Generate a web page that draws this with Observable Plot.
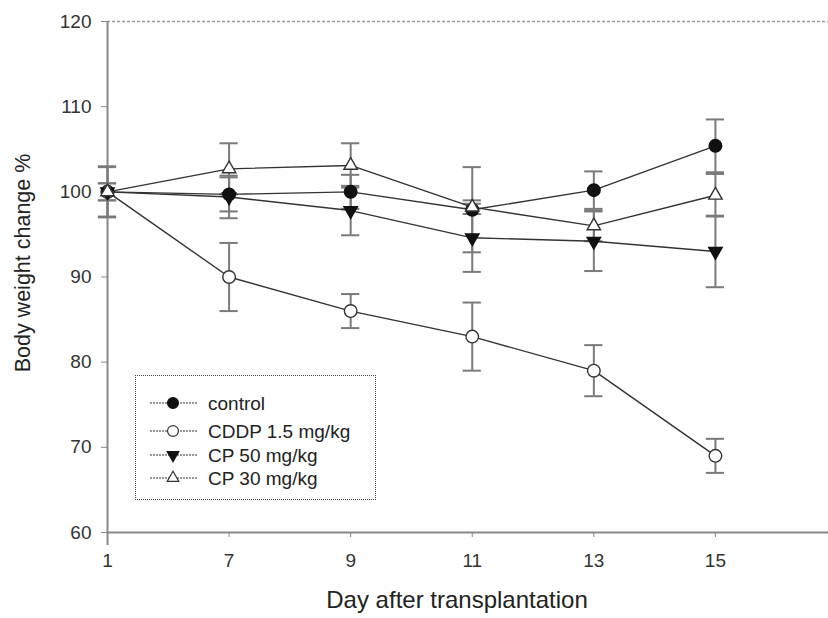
<!DOCTYPE html>
<html>
<head>
<meta charset="utf-8">
<script src="https://cdn.jsdelivr.net/npm/d3@7"></script>
<script src="https://cdn.jsdelivr.net/npm/@observablehq/plot@0.6"></script>
<style>
  html, body { margin: 0; padding: 0; background: #fff; }
  body { width: 828px; height: 618px; position: relative; overflow: hidden; font-family: "Liberation Sans", Arial, sans-serif; }
  #chart { position: absolute; left: 0; top: 0; }
  #legend { position: absolute; left: 135px; top: 375px; width: 241px; height: 125px; border: 1.5px dotted #444; box-sizing: border-box; }
  #legend svg { position: absolute; left: 0; top: 0; }
</style>
</head>
<body>
<div id="chart"></div>
<div id="legend"></div>
<script>
// ---- data ----
const days = ["1", "7", "9", "11", "13", "15"];
const seriesNames = ["control", "CDDP 1.5 mg/kg", "CP 50 mg/kg", "CP 30 mg/kg"];
const controlVals = [100, 99.7, 100.0, 97.9, 100.2, 105.4];
const controlErr  = [1.0, 2.0, 2.0, 5.0, 2.2, 3.1];
const cddpVals    = [100, 90.0, 86.0, 83.0, 79.0, 69.0];
const cddpErr     = [1.0, 4.0, 2.0, 4.0, 3.0, 2.0];
const cp50Vals    = [100, 99.4, 97.8, 94.6, 94.2, 93.0];
const cp50Err     = [3.0, 2.5, 2.9, 4.0, 3.5, 4.2];
const cp30Vals    = [100, 102.7, 103.1, 98.2, 96.0, 99.6];
const cp30Err     = [2.9, 3.0, 2.6, 0.8, 1.8, 2.5];
const yTicks = [60, 70, 80, 90, 100, 110, 120];

const valueLists = [controlVals, cddpVals, cp50Vals, cp30Vals];
const errLists = [controlErr, cddpErr, cp50Err, cp30Err];

const rows = [];
seriesNames.forEach((s, k) => {
  days.forEach((d, i) => rows.push({series: s, i, day: d, value: valueLists[k][i], err: errLists[k][i]}));
});

// downward triangle symbol
const triangleDown = {
  draw(context, size) {
    const y = -Math.sqrt(size / (Math.sqrt(3) * 3));
    context.moveTo(0, -y * 2);
    context.lineTo(-Math.sqrt(3) * y, y);
    context.lineTo(Math.sqrt(3) * y, y);
    context.closePath();
  }
};

const styles = {
  "control":        {symbol: "circle",   fill: "#111", stroke: "#111", r: 6.3},
  "CDDP 1.5 mg/kg": {symbol: "circle",   fill: "#fff", stroke: "#333", r: 6.3},
  "CP 50 mg/kg":    {symbol: triangleDown, fill: "#111", stroke: "#111", r: 5.0},
  "CP 30 mg/kg":    {symbol: "triangle", fill: "#fff", stroke: "#333", r: 5.0}
};

const capHalf = 0.075;
const font = "'Liberation Sans', Arial, sans-serif";

const chart = Plot.plot({
  width: 828,
  height: 618,
  marginLeft: 107,
  marginRight: 0,
  marginTop: 21,
  marginBottom: 86,
  style: {fontFamily: font, background: "#fff", overflow: "visible"},
  x: {type: "linear", domain: [0, 5.93]},
  y: {domain: [60, 120]},
  marks: [
    Plot.ruleY([120], {stroke: "#999", strokeWidth: 1.5, strokeDasharray: "3,2"}),
    Plot.ruleY([60], {stroke: "#888", strokeWidth: 2}),
    Plot.ruleX([0], {stroke: "#888", strokeWidth: 2, insetBottom: -13}),
    Plot.axisY({ticks: yTicks, tickSize: 6, tickPadding: 10, fontSize: 19, stroke: "#888", fill: "#333", label: null}),
    Plot.axisX({ticks: days.map((d, i) => i), tickFormat: i => days[i], tickSize: 5, tickPadding: 16, fontSize: 19, stroke: "#888", fill: "#333", label: null}),
    Plot.text(["Body weight change %"], {frameAnchor: "left", textAnchor: "middle", rotate: -90, dx: -84, dy: -14, fontSize: 21.5, fill: "#222"}),
    Plot.text(["Day after transplantation"], {frameAnchor: "bottom", textAnchor: "middle", dx: -11, dy: 75, fontSize: 24, fill: "#222"}),
    // error bars
    Plot.ruleX(rows, {x: "i", y1: d => d.value - d.err, y2: d => d.value + d.err, stroke: "#7a7a7a", strokeWidth: 2}),
    Plot.ruleY(rows, {y: d => d.value + d.err, x1: d => d.i - capHalf, x2: d => d.i + capHalf, stroke: "#7a7a7a", strokeWidth: 2}),
    Plot.ruleY(rows, {y: d => d.value - d.err, x1: d => d.i - capHalf, x2: d => d.i + capHalf, stroke: "#7a7a7a", strokeWidth: 2}),
    // lines
    Plot.line(rows, {x: "i", y: "value", z: "series", stroke: "#333", strokeWidth: 1.4}),
    // markers
    ...seriesNames.map(s => Plot.dot(rows.filter(d => d.series === s), {
      x: "i", y: "value", symbol: styles[s].symbol, r: styles[s].r,
      fill: styles[s].fill, stroke: styles[s].stroke, strokeWidth: 1.4
    }))
  ]
});
document.getElementById("chart").append(chart);

// legend
const legendSvg = d3.create("svg").attr("width", 241).attr("height", 125)
  .style("font-family", font);
const rowY = [27, 55, 79, 102];
seriesNames.forEach((s, k) => {
  const g = legendSvg.append("g").attr("transform", `translate(0,${rowY[k]})`);
  g.append("line").attr("x1", 14).attr("x2", 61).attr("y1", 0).attr("y2", 0)
    .attr("stroke", "#333").attr("stroke-width", 1.2).attr("stroke-dasharray", "2,1");
  const st = styles[s];
  const sym = typeof st.symbol === "string"
    ? (st.symbol === "circle" ? d3.symbolCircle : d3.symbolTriangle) : st.symbol;
  g.append("path").attr("transform", "translate(37,0)")
    .attr("d", d3.symbol(sym, Math.PI * st.r * st.r * 0.75)())
    .attr("fill", st.fill).attr("stroke", st.stroke).attr("stroke-width", 1.2);
  g.append("text").attr("x", 72).attr("y", 0).attr("dy", "0.35em")
    .attr("font-size", 19).attr("fill", "#222").text(s);
});
document.getElementById("legend").append(legendSvg.node());
</script>
</body>
</html>
